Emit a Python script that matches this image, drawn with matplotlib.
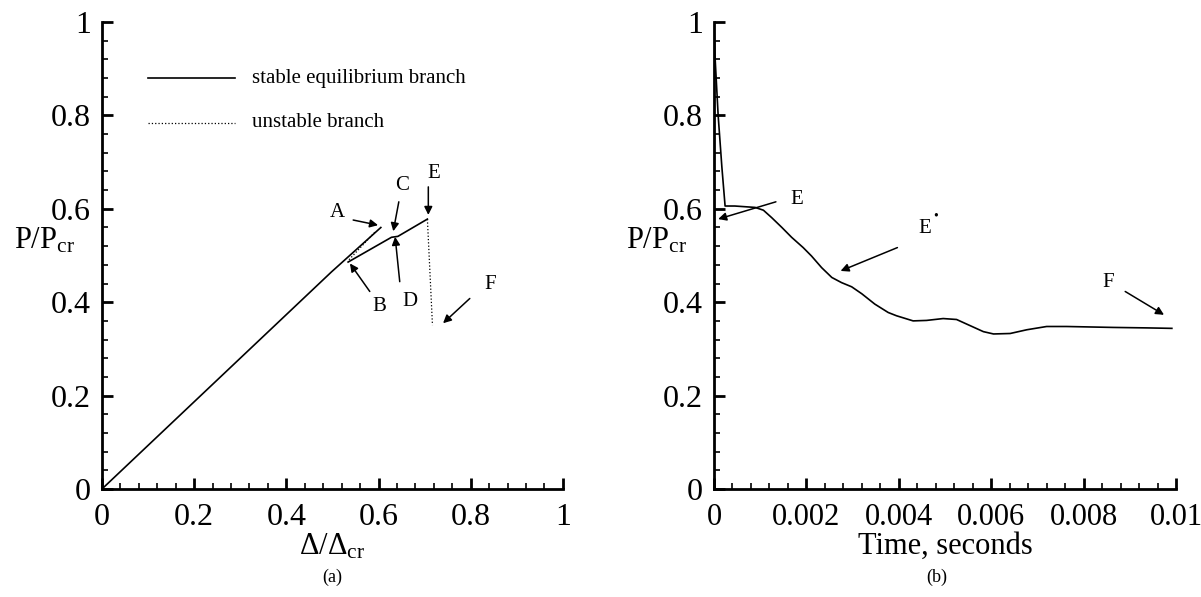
import numpy as np
import matplotlib
matplotlib.use('Agg')
import matplotlib.pyplot as plt
from matplotlib.ticker import MultipleLocator

plt.rcParams['font.family'] = ['Liberation Serif', 'DejaVu Serif']
plt.rcParams['mathtext.fontset'] = 'custom'
plt.rcParams['mathtext.rm'] = 'Liberation Serif'
plt.rcParams['mathtext.it'] = 'Liberation Serif:italic'

# (a) load vs end shortening
stable1_x = [0.0, 0.498, 0.605]
stable1_y = [0.0, 0.465, 0.560]
unstable1_x = [0.536, 0.592]
unstable1_y = [0.491, 0.550]
stable2_x = [0.534, 0.628, 0.642, 0.706]
stable2_y = [0.486, 0.539, 0.541, 0.578]
unstable2_x = [0.706, 0.717]
unstable2_y = [0.578, 0.351]

# (b) load vs time
time_s = [0.0, 0.00002, 0.00009, 0.00017, 0.00024, 0.00045, 0.00089, 0.00107,
          0.00125, 0.00147, 0.00168, 0.00193, 0.00211, 0.00233, 0.00255, 0.00276,
          0.00298, 0.00320, 0.00348, 0.00377, 0.00395, 0.00431, 0.00460, 0.00496,
          0.00525, 0.00554, 0.00583, 0.00605, 0.00641, 0.00677, 0.00720, 0.00763,
          0.00864, 0.00937, 0.00991]
load_b = [1.0, 0.93, 0.80, 0.69, 0.606, 0.606, 0.603, 0.597,
          0.581, 0.560, 0.539, 0.517, 0.499, 0.474, 0.453, 0.442,
          0.433, 0.418, 0.396, 0.378, 0.371, 0.360, 0.361, 0.365,
          0.363, 0.350, 0.337, 0.332, 0.333, 0.341, 0.348, 0.348,
          0.346, 0.345, 0.344]

xticks_a = [0, 0.2, 0.4, 0.6, 0.8, 1]
xlabels_a = ['0', '0.2', '0.4', '0.6', '0.8', '1']
xticks_b = [0, 0.002, 0.004, 0.006, 0.008, 0.01]
xlabels_b = ['0', '0.002', '0.004', '0.006', '0.008', '0.01']
yticks = [0, 0.2, 0.4, 0.6, 0.8, 1]
ylabels = ['0', '0.2', '0.4', '0.6', '0.8', '1']

fig = plt.figure(figsize=(12.01, 5.97), dpi=100)
ax1 = fig.add_axes([0.0849, 0.1809, 0.3838, 0.7822])
ax2 = fig.add_axes([0.5945, 0.1809, 0.3847, 0.7822])


def style_axes(ax, xt, xl, xminor):
    for s in ['top', 'right']:
        ax.spines[s].set_visible(False)
    for s in ['left', 'bottom']:
        ax.spines[s].set_linewidth(2.0)
    ax.set_xticks(xt)
    ax.set_xticklabels(xl)
    ax.set_yticks(yticks)
    ax.set_yticklabels(ylabels)
    ax.xaxis.set_minor_locator(MultipleLocator(xminor))
    ax.yaxis.set_minor_locator(MultipleLocator(0.04))
    ax.tick_params(which='major', direction='in', length=8, width=2.0,
                   labelsize=23)
    ax.tick_params(axis='x', which='major', pad=10)
    ax.tick_params(axis='y', which='major', pad=8)
    ax.tick_params(which='minor', direction='in', length=4, width=1.2)
    ax.set_ylim(0, 1)


# panel (a)
ax1.plot(stable1_x, stable1_y, color='black', lw=1.2)
ax1.plot(unstable1_x, unstable1_y, color='black', lw=0.9, ls=':')
ax1.plot(stable2_x, stable2_y, color='black', lw=1.2)
ax1.plot(unstable2_x, unstable2_y, color='black', lw=0.9, ls=':')
ax1.set_xlim(0, 1)
style_axes(ax1, xticks_a, xlabels_a, 0.04)

# legend drawn by hand
ax1.plot([0.10, 0.288], [0.88, 0.88], color='black', lw=1.2)
ax1.plot([0.10, 0.288], [0.784, 0.784], color='black', lw=0.9, ls=':')
ax1.text(0.326, 0.88, 'stable equilibrium branch', fontsize=15, va='center')
ax1.text(0.326, 0.784, 'unstable branch', fontsize=15, va='center')

arw = dict(arrowstyle='-|>', color='black', lw=1.1, mutation_scale=12,
           shrinkA=0, shrinkB=0)
lab = dict(fontsize=15, ha='center', va='center')
ax1.annotate('', xy=(0.599, 0.565), xytext=(0.545, 0.576), arrowprops=arw)
ax1.text(0.511, 0.592, 'A', **lab)
ax1.annotate('', xy=(0.632, 0.552), xytext=(0.644, 0.615), arrowprops=arw)
ax1.text(0.652, 0.651, 'C', **lab)
ax1.annotate('', xy=(0.708, 0.587), xytext=(0.708, 0.647), arrowprops=arw)
ax1.text(0.719, 0.676, 'E', **lab)
ax1.annotate('', xy=(0.538, 0.483), xytext=(0.581, 0.423), arrowprops=arw)
ax1.text(0.601, 0.390, 'B', **lab)
ax1.annotate('', xy=(0.636, 0.540), xytext=(0.646, 0.444), arrowprops=arw)
ax1.text(0.668, 0.401, 'D', **lab)
ax1.annotate('', xy=(0.740, 0.355), xytext=(0.798, 0.408), arrowprops=arw)
ax1.text(0.843, 0.437, 'F', **lab)

ax1.set_xlabel(r'$\mathrm{\Delta/\Delta_{cr}}$', fontsize=22, labelpad=0)
ax1.set_ylabel(r'$\mathrm{P/P_{cr}}$', fontsize=22, rotation=0)
ax1.yaxis.set_label_coords(-0.125, 0.50)
fig.text(0.2766, 0.033, '(a)', fontsize=13, ha='center', va='center')

# panel (b)
ax2.plot(time_s, load_b, color='black', lw=1.2)
ax2.set_xlim(0, 0.01)
style_axes(ax2, xticks_b, xlabels_b, 0.0004)
ax2.tick_params(axis='x', which='major', labelsize=22)

ax2.annotate('', xy=(0.00009, 0.578), xytext=(0.00134, 0.615), arrowprops=arw)
ax2.text(0.00179, 0.621, 'E', **lab)
ax2.annotate('', xy=(0.00274, 0.467), xytext=(0.00397, 0.517), arrowprops=arw)
ax2.text(0.00457, 0.557, 'E', **lab)
ax2.text(0.00480, 0.585, '•', fontsize=10, ha='center', va='center')
ax2.annotate('', xy=(0.00974, 0.373), xytext=(0.00890, 0.423), arrowprops=arw)
ax2.text(0.00853, 0.442, 'F', **lab)

ax2.set_xlabel('Time, seconds', fontsize=22, labelpad=0)
ax2.set_ylabel(r'$\mathrm{P/P_{cr}}$', fontsize=22, rotation=0)
ax2.yaxis.set_label_coords(-0.125, 0.50)
fig.text(0.780, 0.033, '(b)', fontsize=13, ha='center', va='center')

fig.savefig('out.png', dpi=100)
